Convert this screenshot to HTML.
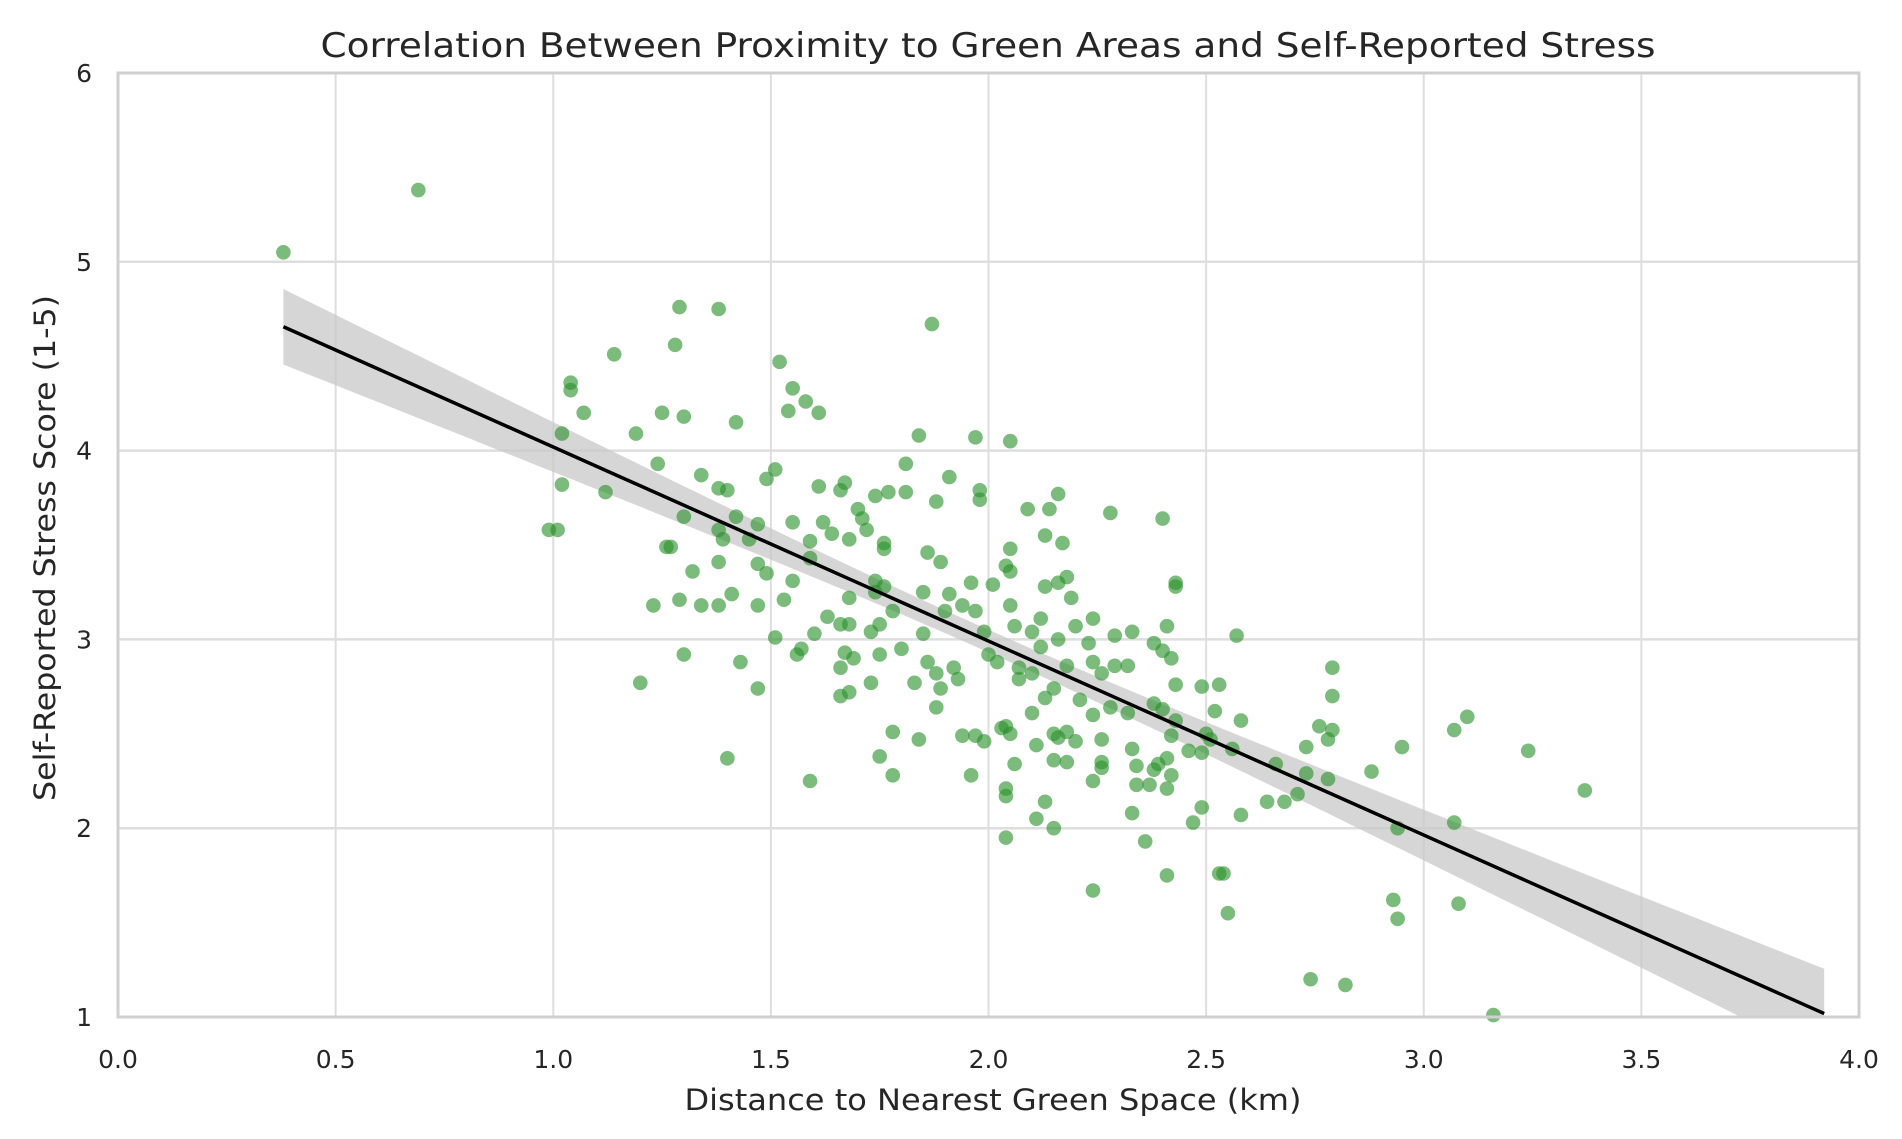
<!DOCTYPE html>
<html><head><meta charset="utf-8"><style>
html,body{margin:0;padding:0;background:#fff;}
svg{display:block;font-family:"DejaVu Sans","Liberation Sans",sans-serif;}
</style></head><body>
<svg id="chart" width="1902" height="1139" viewBox="0 0 1902 1139" xmlns="http://www.w3.org/2000/svg">
<rect width="1902" height="1139" fill="#fff"/>
<text x="988" y="57" text-anchor="middle" font-size="34" textLength="1335" lengthAdjust="spacingAndGlyphs" fill="#262626">Correlation Between Proximity to Green Areas and Self-Reported Stress</text>
<g id="grid"></g>
<g id="band"></g>
<g id="points"></g>
<g id="fit"></g>
<g id="axes"></g>
<text x="993" y="1110" text-anchor="middle" font-size="29" textLength="617" lengthAdjust="spacingAndGlyphs" fill="#262626">Distance to Nearest Green Space (km)</text>
<text transform="translate(55,548) rotate(-90)" text-anchor="middle" font-size="29" textLength="506" lengthAdjust="spacingAndGlyphs" fill="#262626">Self-Reported Stress Score (1-5)</text>
</svg>
<script>
const xTicks = [0.0,0.5,1.0,1.5,2.0,2.5,3.0,3.5,4.0];
const xTickLabels = ["0.0","0.5","1.0","1.5","2.0","2.5","3.0","3.5","4.0"];
const yTicks = [1,2,3,4,5,6];
const yTickLabels = ["1","2","3","4","5","6"];
const fitRange = [0.38, 3.92];
const distanceKm = [0.38,0.69,1.29,1.38,1.87,1.28,1.14,1.52,1.04,1.04,1.55,1.58,1.07,1.25,1.30,1.54,1.61,1.42,1.19,1.02,1.84,1.97,2.05,1.24,1.81,1.51,1.34,1.49,1.91,1.02,1.12,1.61,1.67,1.66,1.38,1.40,1.77,1.81,1.98,1.98,1.88,1.74,2.16,1.70,2.09,2.14,2.28,2.40,1.30,1.42,1.55,1.62,1.71,1.72,0.99,1.01,1.38,1.39,1.45,1.47,1.64,2.13,1.68,1.76,1.76,2.17,1.26,1.27,1.59,2.05,1.86,1.59,1.38,1.47,1.89,2.04,2.05,1.32,1.49,1.55,1.41,1.74,1.74,1.76,1.96,2.18,2.16,2.13,2.43,2.43,2.01,1.91,1.85,2.19,1.29,1.53,1.23,1.34,1.38,1.47,1.68,1.94,1.97,2.05,1.78,1.90,1.63,1.66,2.12,2.24,2.41,2.06,2.20,1.51,1.60,1.68,1.73,1.75,1.85,1.99,2.10,2.16,2.33,2.29,2.57,1.57,1.56,1.30,1.67,1.75,1.80,2.00,2.12,2.23,2.38,2.40,2.42,1.43,1.66,1.69,1.86,1.92,2.02,2.07,2.18,2.24,2.29,2.32,2.79,1.88,1.93,2.07,2.10,2.26,1.20,1.73,1.83,1.89,2.15,2.53,2.49,2.43,1.47,1.66,1.68,2.13,2.21,2.79,1.88,2.28,2.32,2.38,2.40,2.52,2.58,2.10,2.24,2.43,2.03,2.04,2.76,3.10,3.07,1.78,1.94,1.97,2.05,2.15,2.18,2.50,2.79,1.84,1.99,2.11,2.16,2.20,2.26,2.42,2.51,2.78,2.33,2.46,2.49,2.73,2.95,3.24,1.75,2.15,2.26,2.39,2.41,2.56,1.40,2.06,2.26,2.34,2.38,2.66,2.73,2.88,1.78,1.96,2.18,2.42,2.78,1.59,2.24,2.34,2.37,2.41,2.71,2.04,3.37,2.04,2.13,2.64,2.68,2.49,2.33,2.58,2.11,2.47,3.07,2.94,2.15,2.04,2.36,2.41,2.53,2.54,2.24,2.93,3.08,2.55,2.94,2.74,2.82,3.16];
const stressScore = [5.05,5.38,4.76,4.75,4.67,4.56,4.51,4.47,4.36,4.32,4.33,4.26,4.20,4.20,4.18,4.21,4.20,4.15,4.09,4.09,4.08,4.07,4.05,3.93,3.93,3.90,3.87,3.85,3.86,3.82,3.78,3.81,3.83,3.79,3.80,3.79,3.78,3.78,3.79,3.74,3.73,3.76,3.77,3.69,3.69,3.69,3.67,3.64,3.65,3.65,3.62,3.62,3.64,3.58,3.58,3.58,3.58,3.53,3.53,3.61,3.56,3.55,3.53,3.51,3.48,3.51,3.49,3.49,3.52,3.48,3.46,3.43,3.41,3.40,3.41,3.39,3.36,3.36,3.35,3.31,3.24,3.31,3.25,3.28,3.30,3.33,3.30,3.28,3.30,3.28,3.29,3.24,3.25,3.22,3.21,3.21,3.18,3.18,3.18,3.18,3.22,3.18,3.15,3.18,3.15,3.15,3.12,3.08,3.11,3.11,3.07,3.07,3.07,3.01,3.03,3.08,3.04,3.08,3.03,3.04,3.04,3.00,3.04,3.02,3.02,2.95,2.92,2.92,2.93,2.92,2.95,2.92,2.96,2.98,2.98,2.94,2.90,2.88,2.85,2.90,2.88,2.85,2.88,2.85,2.86,2.88,2.86,2.86,2.85,2.82,2.79,2.79,2.82,2.82,2.77,2.77,2.77,2.74,2.74,2.76,2.75,2.76,2.74,2.70,2.72,2.69,2.68,2.70,2.64,2.64,2.61,2.66,2.63,2.62,2.57,2.61,2.60,2.57,2.53,2.54,2.54,2.59,2.52,2.51,2.49,2.49,2.50,2.50,2.51,2.50,2.52,2.47,2.46,2.44,2.48,2.46,2.47,2.49,2.47,2.47,2.42,2.41,2.40,2.43,2.43,2.41,2.38,2.36,2.35,2.34,2.37,2.42,2.37,2.34,2.32,2.33,2.31,2.34,2.29,2.30,2.28,2.28,2.35,2.28,2.26,2.25,2.25,2.23,2.23,2.21,2.18,2.21,2.20,2.17,2.14,2.14,2.14,2.11,2.08,2.07,2.05,2.03,2.03,2.00,2.00,1.95,1.93,1.75,1.76,1.76,1.67,1.62,1.60,1.55,1.52,1.20,1.17,1.01];

const NS="http://www.w3.org/2000/svg";
const L=118,R=1859,T=73,B=1017;
const xMin=0,xMax=4,yMin=1,yMax=6;
function xs(v){return L+(v-xMin)/(xMax-xMin)*(R-L);}
function ys(v){return B-(v-yMin)/(yMax-yMin)*(B-T);}
function mk(tag,attrs,parent){const e=document.createElementNS(NS,tag);for(const k in attrs)e.setAttribute(k,attrs[k]);parent.appendChild(e);return e;}

const grid=document.getElementById('grid');
xTicks.forEach((t,i)=>{
  const g=mk('line',{x1:xs(t),x2:xs(t),y1:T,y2:B,stroke:'#dedede','stroke-width':2},grid);
  
  
});
yTicks.forEach((t,i)=>{
  const g=mk('line',{x1:L,x2:R,y1:ys(t),y2:ys(t),stroke:'#dedede','stroke-width':2.5},grid);
  
  
});

const n=distanceKm.length;
let mx=0,my=0;for(let i=0;i<n;i++){mx+=distanceKm[i];my+=stressScore[i];}mx/=n;my/=n;
let sxx=0,sxy=0;for(let i=0;i<n;i++){sxx+=(distanceKm[i]-mx)**2;sxy+=(distanceKm[i]-mx)*(stressScore[i]-my);}
const slope=sxy/sxx,inter=my-slope*mx;
let sse=0;for(let i=0;i<n;i++){sse+=(stressScore[i]-(inter+slope*distanceKm[i]))**2;}
const s=Math.sqrt(sse/(n-2));
const steps=60,upper=[],lower=[];
for(let k=0;k<=steps;k++){
  const x=fitRange[0]+(fitRange[1]-fitRange[0])*k/steps;
  const yh=inter+slope*x;
  const se=1.9*s*Math.sqrt(1/n+(x-mx)**2/sxx);
  upper.push([xs(x),ys(yh+se)]);lower.push([xs(x),ys(yh-se)]);
}
const bandPts=upper.concat(lower.reverse()).map(p=>p[0].toFixed(1)+','+p[1].toFixed(1)).join(' ');
const defs=mk('defs',{},document.getElementById('chart'));
const cp=mk('clipPath',{id:'clip'},defs);
mk('rect',{x:L,y:T,width:R-L,height:B-T},cp);
const band=mk('polygon',{points:bandPts,fill:'#c8c8c8','fill-opacity':0.75,'clip-path':'url(#clip)'},document.getElementById('band'));



const pts=document.getElementById('points');
for(let i=0;i<n;i++){
  const c=mk('circle',{cx:xs(distanceKm[i]),cy:ys(stressScore[i]),r:7.3,fill:'#2a922a','fill-opacity':0.62},pts);
  
  
}

const fl=mk('line',{x1:xs(fitRange[0]),y1:ys(inter+slope*fitRange[0]),x2:xs(fitRange[1]),y2:ys(inter+slope*fitRange[1]),stroke:'#000','stroke-width':3.5,'clip-path':'url(#clip)'},document.getElementById('fit'));



const axes=document.getElementById('axes');
const fr=mk('rect',{x:L,y:T,width:R-L,height:B-T,fill:'none',stroke:'#cfcfcf','stroke-width':3},axes);


xTicks.forEach((t,i)=>{
  const e=mk('text',{x:xs(t),y:1068,'text-anchor':'middle','font-size':25,fill:'#262626'},axes);
  e.textContent=xTickLabels[i];
  
  
});
yTicks.forEach((t,i)=>{
  const e=mk('text',{x:92,y:ys(t)+9,'text-anchor':'end','font-size':25,fill:'#262626'},axes);
  e.textContent=yTickLabels[i];
  
  
});
</script>
</body></html>
